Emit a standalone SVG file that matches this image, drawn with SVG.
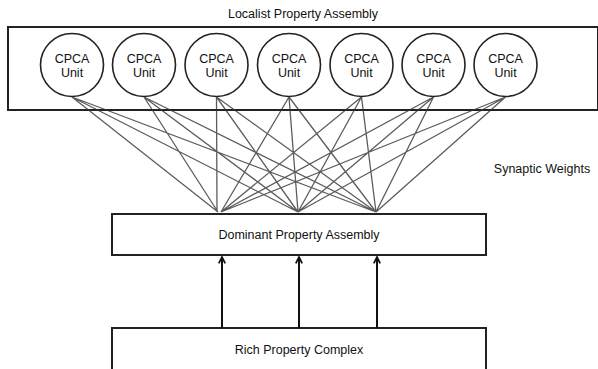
<svg xmlns="http://www.w3.org/2000/svg" width="598" height="369" viewBox="0 0 598 369">
<defs>
<style>
text{font-family:"Liberation Sans",Arial,sans-serif;font-size:12.5px;fill:#111;text-anchor:middle}
.box{fill:#fff;stroke:#222;stroke-width:2}
.unit{fill:#fff;stroke:#222;stroke-width:1.6}
.w{stroke:#333;stroke-width:1.3;fill:none;opacity:0.8}
.a{stroke:#111;stroke-width:2;fill:none;marker-end:url(#arr)}
</style>
<marker id="arr" viewBox="0 0 10 10" refX="9" refY="5" markerWidth="4" markerHeight="4" orient="auto" markerUnits="strokeWidth">
<path d="M1,1 L9,5 L1,9" fill="none" stroke="#111" stroke-width="2.2"/>
</marker>
</defs>
<rect width="598" height="369" fill="#fff"/>
<text x="303" y="18">Localist Property Assembly</text>
<g id="localist"><rect class="box" x="8" y="27" width="590" height="83"/></g>
<g id="weights">
<path class="w" d="M72,97L218,212M72,97L298,212M72,97L376,212
M144,97L218,212M144,97L298,212M144,97L376,212
M216.5,97L217,212M216.5,97L298,212M216.5,97L376,212
M289,97L221,212M289,97L298,212M289,97L376,212
M361.5,97L221,212M361.5,97L298,212M361.5,97L376,212
M433.5,97L221,212M433.5,97L298,212M433.5,97L376,212
M505.5,97L221,212M505.5,97L298,212M505.5,97L376,212"/>
</g>
<g id="u1"><circle class="unit" cx="72" cy="65" r="31.5"/><text x="72" y="63">CPCA</text><text x="72" y="77">Unit</text></g>
<g id="u2"><circle class="unit" cx="144" cy="65" r="31.5"/><text x="144" y="63">CPCA</text><text x="144" y="77">Unit</text></g>
<g id="u3"><circle class="unit" cx="216.5" cy="65" r="31.5"/><text x="216.5" y="63">CPCA</text><text x="216.5" y="77">Unit</text></g>
<g id="u4"><circle class="unit" cx="289" cy="65" r="31.5"/><text x="289" y="63">CPCA</text><text x="289" y="77">Unit</text></g>
<g id="u5"><circle class="unit" cx="361.5" cy="65" r="31.5"/><text x="361.5" y="63">CPCA</text><text x="361.5" y="77">Unit</text></g>
<g id="u6"><circle class="unit" cx="433.5" cy="65" r="31.5"/><text x="433.5" y="63">CPCA</text><text x="433.5" y="77">Unit</text></g>
<g id="u7"><circle class="unit" cx="505.5" cy="65" r="31.5"/><text x="505.5" y="63">CPCA</text><text x="505.5" y="77">Unit</text></g>
<text x="542" y="173">Synaptic Weights</text>
<g id="dominant"><rect class="box" x="112" y="214" width="374" height="41"/><text x="299" y="239">Dominant Property Assembly</text></g>
<g id="rich"><rect class="box" x="112" y="328" width="374" height="50"/><text x="299" y="354">Rich Property Complex</text></g>
<g id="connectors">
<line class="a" x1="222" y1="328" x2="222" y2="257"/>
<line class="a" x1="299" y1="328" x2="299" y2="257"/>
<line class="a" x1="377" y1="328" x2="377" y2="257"/>
</g>
</svg>
